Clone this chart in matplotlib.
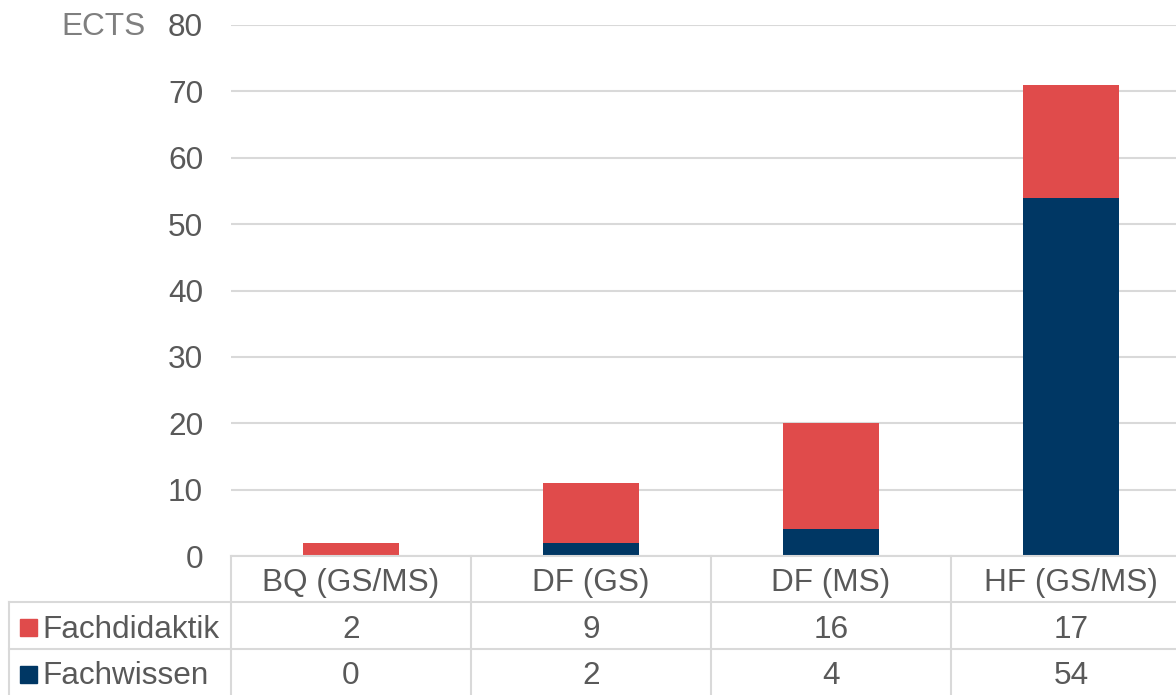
import matplotlib
matplotlib.use("Agg")
import matplotlib.pyplot as plt
from matplotlib.transforms import blended_transform_factory
from matplotlib.lines import Line2D
from matplotlib.patches import Rectangle

categories = ["BQ (GS/MS)", "DF (GS)", "DF (MS)", "HF (GS/MS)"]
fachwissen = [0, 2, 4, 54]
fachdidaktik = [2, 9, 16, 17]
series_names = ["Fachdidaktik", "Fachwissen"]
yticks = [0, 10, 20, 30, 40, 50, 60, 70, 80]

RED = "#E04B4B"
NAVY = "#003764"
GRID = "#D9D9D9"
TXT = "#595959"
FS = 22.7

plt.rcParams['font.family'] = ['Liberation Sans', 'DejaVu Sans']

W, H = 1176, 695
fig = plt.figure(figsize=(W / 100, H / 100), dpi=100)
# plot area extends slightly beyond right edge (cropped like original)
ax = fig.add_axes([231 / W, 139 / H, 960 / W, 531 / H])

x = list(range(len(categories)))
ax.bar(x, fachwissen, width=0.4, color=NAVY, zorder=3)
ax.bar(x, fachdidaktik, width=0.4, bottom=fachwissen, color=RED, zorder=3)

ax.set_xlim(-0.5, len(categories) - 0.5)
ax.set_ylim(0, 80)
ax.set_yticks(yticks)
ax.set_yticklabels([str(v) for v in yticks])
ax.tick_params(axis='y', length=0, pad=20, labelsize=FS, labelcolor=TXT)
ax.set_xticks([])
for s in ax.spines.values():
    s.set_visible(False)
ax.yaxis.grid(True, color=GRID, linewidth=1.5, zorder=0)
ax.set_axisbelow(True)

fig.text(146 / W, 1 - 27 / H, "ECTS", ha='right', va='center', fontsize=FS, color="#7F7F7F")

# data table below the chart
tr = blended_transform_factory(ax.transData, fig.transFigure)
y_top = 1 - 556 / H
y_r1 = 1 - 602 / H
y_r2 = 1 - 649 / H
y_bot = 1 - 695 / H
x_left_fig = 9 / W
lw = 1.5

# horizontal lines
fig.add_artist(Line2D([231 / W, 1.0], [y_top, y_top], color=GRID, lw=lw, transform=fig.transFigure))
for yy in (y_r1, y_r2):
    fig.add_artist(Line2D([x_left_fig, 1.0], [yy, yy], color=GRID, lw=lw, transform=fig.transFigure))
# vertical lines
fig.add_artist(Line2D([x_left_fig, x_left_fig], [y_r1, y_bot], color=GRID, lw=lw, transform=fig.transFigure))
for i in range(len(categories)):
    fig.add_artist(Line2D([i - 0.5, i - 0.5], [y_top, y_bot], color=GRID, lw=lw, transform=tr))

dy = 4 / H
yc_head = (y_top + y_r1) / 2 - dy
yc_1 = (y_r1 + y_r2) / 2 - dy
yc_2 = (y_r2 + y_bot) / 2 - dy
for i, c in enumerate(categories):
    fig.text(i, yc_head, c, transform=tr, ha='center', va='center', fontsize=FS, color=TXT)
    fig.text(i, yc_1, str(fachdidaktik[i]), transform=tr, ha='center', va='center', fontsize=FS, color=TXT)
    fig.text(i, yc_2, str(fachwissen[i]), transform=tr, ha='center', va='center', fontsize=FS, color=TXT)

sq = 17
for yc, name, col in ((yc_1, series_names[0], RED), (yc_2, series_names[1], NAVY)):
    fig.add_artist(Rectangle((20 / W, yc - sq / 2 / H + dy / 2), sq / W, sq / H, color=col, transform=fig.transFigure))
    fig.text(42 / W, yc, name, ha='left', va='center', fontsize=FS, color=TXT)

fig.savefig("out.png", dpi=100)
